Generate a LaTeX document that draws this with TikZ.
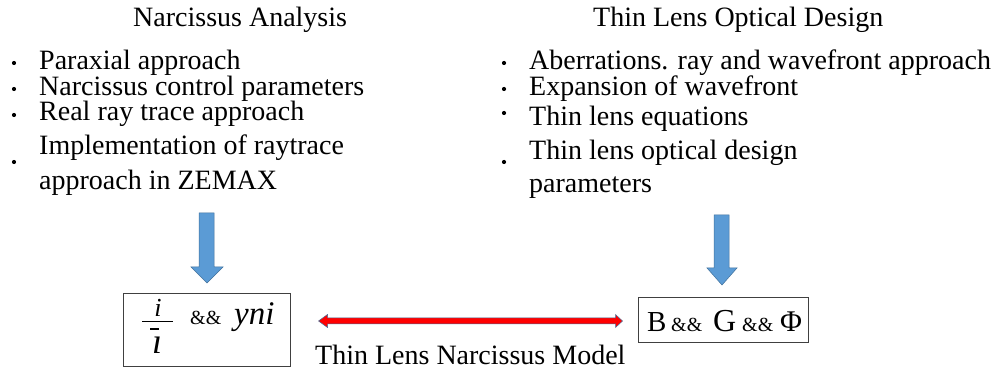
\documentclass[tikz,border=0pt]{standalone}
\usepackage{fontspec}
\setmainfont{Liberation Serif}
\usetikzlibrary{calc}
\definecolor{arrowblue}{HTML}{5B9BD5}
\definecolor{arrowedge}{HTML}{41719C}
\definecolor{arrowred}{HTML}{FF0000}
\begin{document}
\begin{tikzpicture}[x=1pt,y=-1pt,
  headtext/.style={anchor=base west,inner sep=0pt,font=\rmfamily\fontsize{28}{32}\selectfont},
  listtext/.style={anchor=base west,inner sep=0pt,font=\rmfamily\fontsize{28}{32}\selectfont},
  bulletdot/.style={circle,fill=black,inner sep=0pt,minimum size=4.2pt},
  mathbox/.style={draw=black!75,line width=1pt,inner sep=0pt},
  blockarrow/.style={fill=arrowblue,draw=arrowedge,line width=0.5pt},
  redarrow/.style={fill=arrowred,draw=arrowedge,line width=0.5pt},
  sym/.style={anchor=base west,inner sep=0pt}]
\useasboundingbox (0,0) rectangle (999,379);
% left column
\node[headtext] (lt) at (133,27) {Narcissus Analysis};
\node[listtext] (l1) at (39,70) {Paraxial approach};
\node[listtext] (l2) at (39,96) {Narcissus control parameters};
\node[listtext] (l3) at (39,121) {Real ray trace approach};
\node[listtext] (l4) at (39,155) {Implementation of raytrace};
\node[listtext] (l5) at (39,190) {approach in ZEMAX};
\node[bulletdot] (ld1) at (14,63) {};
\node[bulletdot] (ld2) at (14,89) {};
\node[bulletdot] (ld3) at (14,115) {};
\node[bulletdot] (ld4) at (14,162) {};
% right column
\node[headtext] (rt) at (593,27) {Thin Lens Optical Design};
\node[listtext] (r1) at (529,70) {Aberrations. ray and wavefront approach};
\node[listtext] (r2) at (529,96) {Expansion of wavefront};
\node[listtext] (r3) at (529,126) {Thin lens equations};
\node[listtext] (r4) at (529,160) {Thin lens optical design};
\node[listtext] (r5) at (529,193) {parameters};
\node[bulletdot] (rd1) at (504,63) {};
\node[bulletdot] (rd2) at (504,89) {};
\node[bulletdot] (rd3) at (504,113) {};
\node[bulletdot] (rd4) at (504,162) {};
% boxes
\node[mathbox,minimum width=167pt,minimum height=73pt] (lb) at (206.5,330.5) {};
\node[mathbox,minimum width=170pt,minimum height=45pt] (rb) at (723,320.5) {};
% left box content
\node[anchor=base,inner sep=0pt,font=\rmfamily\fontsize{26}{28}\selectfont\itshape] (num) at (158,317) {i};
\node[anchor=base,inner sep=0pt,font=\rmfamily\fontsize{36}{38}\selectfont\itshape] (den) at (157,353) {\i};
\coordinate (barl) at (142,321.5);
\coordinate (barr) at (173,321.5);
\draw[line width=1.8pt] (barl) -- (barr);
\coordinate (obl) at (150,329);
\coordinate (obr) at (159,329);
\draw[line width=1.6pt] (obl) -- (obr);
\node[sym,font=\rmfamily\fontsize{20}{22}\selectfont] (amp1) at (190,325) {\&\&};
\node[sym,font=\rmfamily\fontsize{33}{35}\selectfont\itshape] (yni) at (234,325) {yni};
% right box content
\node[sym,font=\rmfamily\fontsize{29}{30}\selectfont] (B) at (647,332) {B};
\node[sym,font=\rmfamily\fontsize{20}{22}\selectfont] (amp2) at (671,332) {\&\&};
\node[sym,font=\rmfamily\fontsize{32}{33}\selectfont] (G) at (713,332) {G};
\node[sym,font=\rmfamily\fontsize{20}{22}\selectfont] (amp3) at (742,332) {\&\&};
\node[sym,font=\rmfamily\fontsize{30}{32}\selectfont] (Phi) at (780,332) {Φ};
% blue arrows
\draw[blockarrow] (199,213) -- (214,213) -- (214,267) -- (223,267) -- (207,283) -- (191,267) -- (199,267) -- cycle;
\draw[blockarrow] (714,215) -- (729,215) -- (729,268) -- (737,268) -- (722,285) -- (707,268) -- (714,268) -- cycle;
% red double arrow
\coordinate (ra) at ($(lb.east)+(28,-9.5)$);
\coordinate (rbb) at ($(rb.west)+(-15,0.5)$);
\draw[redarrow] (ra) -- ++(9,-6.5) -- ++(0,3.5) -- ($(rbb)+(-7,-3)$) -- ++(0,-3.5) -- (rbb) -- ++(-7,6.5) -- ++(0,-3.5) -- ($(ra)+(9,3)$) -- ++(0,3.5) -- cycle;
\node[anchor=base west,inner sep=0pt,font=\rmfamily\fontsize{28}{30}\selectfont] (model) at (315,364) {Thin Lens Narcissus Model};
\end{tikzpicture}
\end{document}
